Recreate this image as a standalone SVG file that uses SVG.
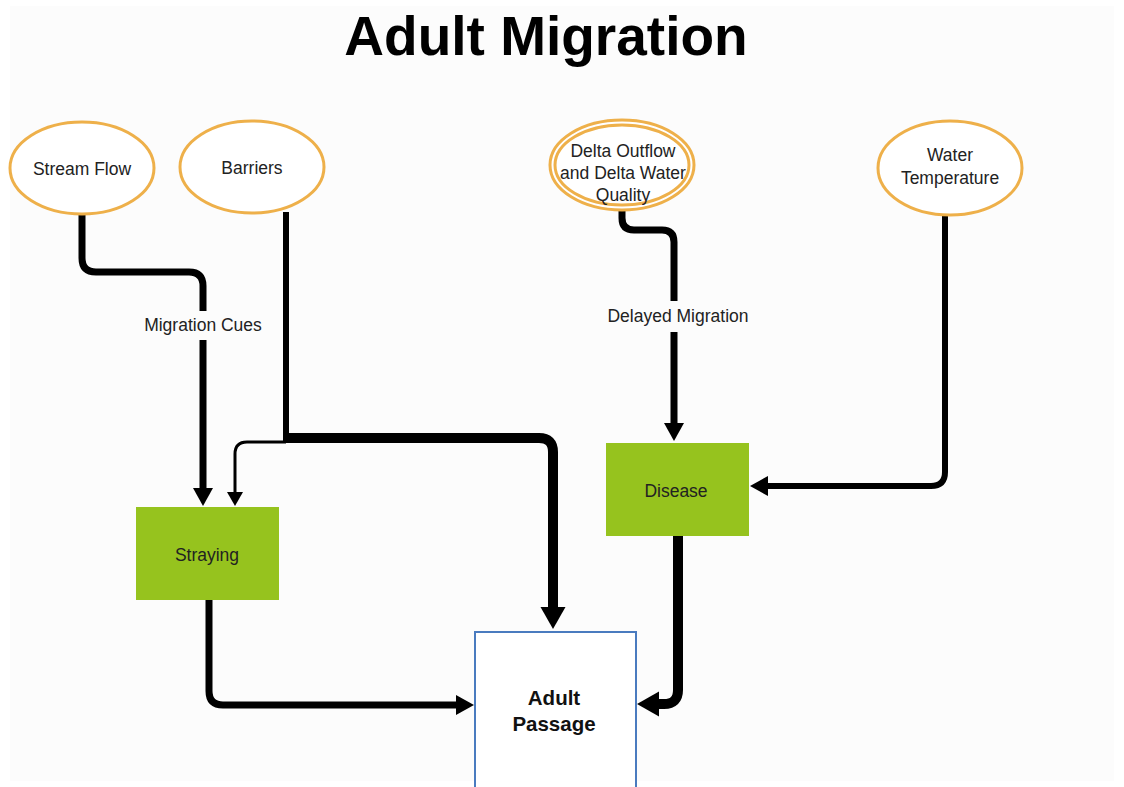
<svg xmlns="http://www.w3.org/2000/svg" width="1124" height="787" viewBox="0 0 1124 787">
<style>
.ell{fill:#ffffff;stroke:#eeb04a;stroke-width:3}
.txt{font-family:"Liberation Sans",Arial,sans-serif;font-size:17.5px;fill:#222222;text-anchor:middle}
.lbl{font-family:"Liberation Sans",Arial,sans-serif;font-size:17.5px;fill:#222222;text-anchor:middle}
.green{fill:#96c31e}
.ln{fill:none;stroke:#000000;stroke-linejoin:round}
.title{font-family:"Liberation Sans",Arial,sans-serif;font-weight:bold;font-size:55px;fill:#000000;text-anchor:middle}
.bold{font-family:"Liberation Sans",Arial,sans-serif;font-weight:bold;font-size:20.5px;fill:#111111;text-anchor:middle}
</style>
<defs>
<marker id="arr" markerUnits="userSpaceOnUse" markerWidth="20" markerHeight="22" viewBox="0 -11 20 22" refX="0" refY="0" orient="auto"><path d="M0,-10 L18,0 L0,10 z" fill="#000"/></marker>
<marker id="arrBig" markerUnits="userSpaceOnUse" markerWidth="24" markerHeight="28" viewBox="0 -14 24 28" refX="0" refY="0" orient="auto"><path d="M0,-12.5 L22,0 L0,12.5 z" fill="#000"/></marker>
<marker id="arrSmall" markerUnits="userSpaceOnUse" markerWidth="16" markerHeight="18" viewBox="0 -9 16 18" refX="0" refY="0" orient="auto"><path d="M0,-8 L14,0 L0,8 z" fill="#000"/></marker>
</defs>
<rect x="0" y="0" width="1124" height="787" fill="#ffffff"/>
<rect x="10" y="6" width="1104" height="775" fill="#fcfcfc"/>
<text class="title" x="546" y="55">Adult Migration</text>

<g id="connectors">
<path class="ln" stroke-width="7" d="M82 213 V258 Q82 272 96 272 H189 Q203 272 203 286 V311"/>
<path class="ln" stroke-width="7" d="M203 340 V488" marker-end="url(#arr)"/>
<path class="ln" stroke-width="6" d="M286 212 V442"/>
<path class="ln" stroke-width="10" d="M283 438 H539 Q553 438 553 452 V607" marker-end="url(#arrBig)"/>
<path class="ln" stroke-width="3" d="M286 442 H247 Q235 442 235 454 V492" marker-end="url(#arrSmall)"/>
<path class="ln" stroke-width="7" d="M622 210 V218 Q622 230 634 230 H662 Q674 230 674 242 V301"/>
<path class="ln" stroke-width="7" d="M674 332 V423" marker-end="url(#arr)"/>
<path class="ln" stroke-width="6" d="M945 216 V472 Q945 486 931 486 H768" marker-end="url(#arr)"/>
<path class="ln" stroke-width="7" d="M209 600 V691 Q209 705 223 705 H456" marker-end="url(#arr)"/>
<path class="ln" stroke-width="10" d="M678 536 V690 Q678 704 664 704 H659" marker-end="url(#arrBig)"/>
<text class="lbl" x="203" y="331">Migration Cues</text>
<text class="lbl" x="678" y="322">Delayed Migration</text>
</g>

<g id="stream-flow">
<ellipse class="ell" cx="82" cy="168" rx="72" ry="46"/>
<text class="txt" x="82" y="175">Stream Flow</text>
</g>
<g id="barriers">
<ellipse class="ell" cx="252" cy="167" rx="72" ry="46"/>
<text class="txt" x="252" y="174">Barriers</text>
</g>
<g id="delta-outflow">
<ellipse class="ell" cx="622" cy="165" rx="72" ry="45"/>
<ellipse class="ell" cx="622" cy="165" rx="67" ry="40"/>
<text class="txt" x="623" y="157">Delta Outflow</text>
<text class="txt" x="623" y="179">and Delta Water</text>
<text class="txt" x="623" y="201">Quality</text>
</g>
<g id="water-temperature">
<ellipse class="ell" cx="950" cy="168" rx="72" ry="47"/>
<text class="txt" x="950" y="161">Water</text>
<text class="txt" x="950" y="184">Temperature</text>
</g>
<g id="straying">
<rect class="green" x="136" y="507" width="143" height="93"/>
<text class="txt" x="207" y="561">Straying</text>
</g>
<g id="disease">
<rect class="green" x="606" y="443" width="143" height="93"/>
<text class="txt" x="676" y="497">Disease</text>
</g>
<g id="adult-passage">
<rect x="475" y="632" width="161" height="170" fill="#ffffff" stroke="#4a7bbf" stroke-width="2"/>
<text class="bold" x="554" y="705">Adult</text>
<text class="bold" x="554" y="731">Passage</text>
</g>
</svg>
